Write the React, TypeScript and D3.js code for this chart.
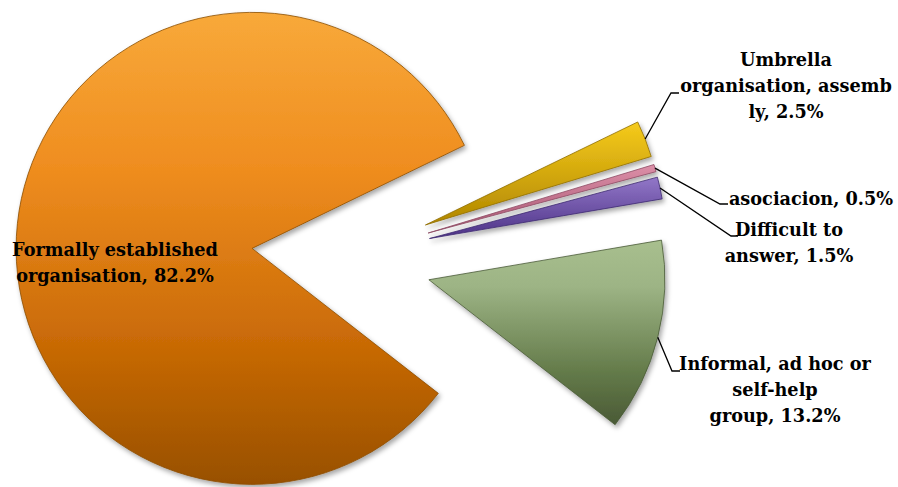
import React from "react";
import * as d3 from "d3";

const categories = [
  "Formally established organisation",
  "Umbrella organisation, assembly",
  "asociacion",
  "Difficult to answer",
  "Informal, ad hoc or self-help group",
];
const values = [82.2, 2.5, 0.5, 1.5, 13.2];
const labelLines = [
  ["Formally established", "organisation, 82.2%"],
  ["Umbrella", "organisation, assemb", "ly, 2.5%"],
  ["asociacion, 0.5%"],
  ["Difficult to", "answer, 1.5%"],
  ["Informal, ad hoc or", "self-help", "group, 13.2%"],
];
const gradStops = [
  [["0", "#f8a93a"], ["0.33", "#ef8d1f"], ["0.7", "#c96a06"], ["1", "#985000"]],
  [["0", "#f6cb1c"], ["1", "#b08600"]],
  [["0", "#dc8fa8"], ["1", "#a65470"]],
  [["0", "#9277c8"], ["1", "#4c3286"]],
  [["0", "#a8bf8e"], ["0.25", "#9db485"], ["0.72", "#637a49"], ["1", "#4a5a36"]],
];
const strokes = ["#8a4c00", "#8f6d00", "#8c4a62", "#3e2a70", "#4a5a38"];

// layout (positions / sizes)
const W = 898;
const H = 487;
const CX = 341.6;
const CY = 257.8;
const R = 236;
const EXPLODE = 90;
const START_DEG = 127.9;
const FONT = 17.7;
const LINE_H = 26;
const labelLayout: any[] = [
  { x: 115, y: 256, elbow: null },
  { x: 786, y: 66, elbow: [671, 93], end: [679, 93] },
  { x: 811, y: 205, elbow: [720, 204], end: [728, 204] },
  { x: 789, y: 236, elbow: [731, 236], end: [738, 236] },
  { x: 775, y: 370, elbow: [672, 371], end: [680, 371] },
];

export default function App() {
  const pie = d3
    .pie<number>()
    .sort(null)
    .value((d) => d)
    .startAngle((START_DEG * Math.PI) / 180)
    .endAngle((START_DEG * Math.PI) / 180 + 2 * Math.PI);
  const arcs = pie(values);
  const arcGen = d3.arc<any>().innerRadius(0).outerRadius(R);

  const slices = arcs.map((a, i) => {
    const mid = (a.startAngle + a.endAngle) / 2;
    const ox = Math.sin(mid) * EXPLODE;
    const oy = -Math.cos(mid) * EXPLODE;
    const edge = [ox + Math.sin(mid) * R, oy - Math.cos(mid) * R];
    return { a, i, ox, oy, edge };
  });

  return (
    <svg width={W} height={H} style={{ position: "absolute", left: 0, top: 0, background: "#fff" }}>
      <defs>
        {slices.map(({ i }) => (
          <linearGradient key={i} id={`g${i}`} x1="0" y1="0" x2="0" y2="1">
            {gradStops[i].map(([o, c], k) => (
              <stop key={k} offset={o} stopColor={c} />
            ))}
          </linearGradient>
        ))}
        <filter id="shadow" x="-20%" y="-20%" width="140%" height="140%">
          <feDropShadow dx="2" dy="3" stdDeviation="2.5" floodColor="#000" floodOpacity="0.35" />
        </filter>
      </defs>
      <g transform={`translate(${CX},${CY})`}>
        {slices.map(({ a, i, ox, oy }) => (
          <path
            key={i}
            d={arcGen(a) as string}
            transform={`translate(${ox},${oy})`}
            fill={`url(#g${i})`}
            stroke={strokes[i]}
            strokeWidth={0.8}
            filter="url(#shadow)"
          />
        ))}
      </g>
      {slices.map(({ i, edge }) => {
        const L = labelLayout[i];
        if (!L.elbow) return null;
        const sx = CX + edge[0];
        const sy = CY + edge[1];
        return (
          <polyline
            key={`l${i}`}
            points={`${sx},${sy} ${L.elbow[0]},${L.elbow[1]} ${L.end[0]},${L.end[1]}`}
            fill="none"
            stroke="#000"
            strokeWidth={1.3}
          />
        );
      })}
      {labelLines.map((lines, i) => {
        const L = labelLayout[i];
        return (
          <text
            key={`t${i}`}
            x={L.x}
            y={L.y}
            textAnchor="middle"
            fontFamily="'DejaVu Serif', serif"
            fontWeight="bold"
            fontSize={FONT}
            fill="#000"
          >
            {lines.map((ln, j) => (
              <tspan key={j} x={L.x} y={L.y + j * LINE_H}>
                {ln}
              </tspan>
            ))}
          </text>
        );
      })}
    </svg>
  );
}
